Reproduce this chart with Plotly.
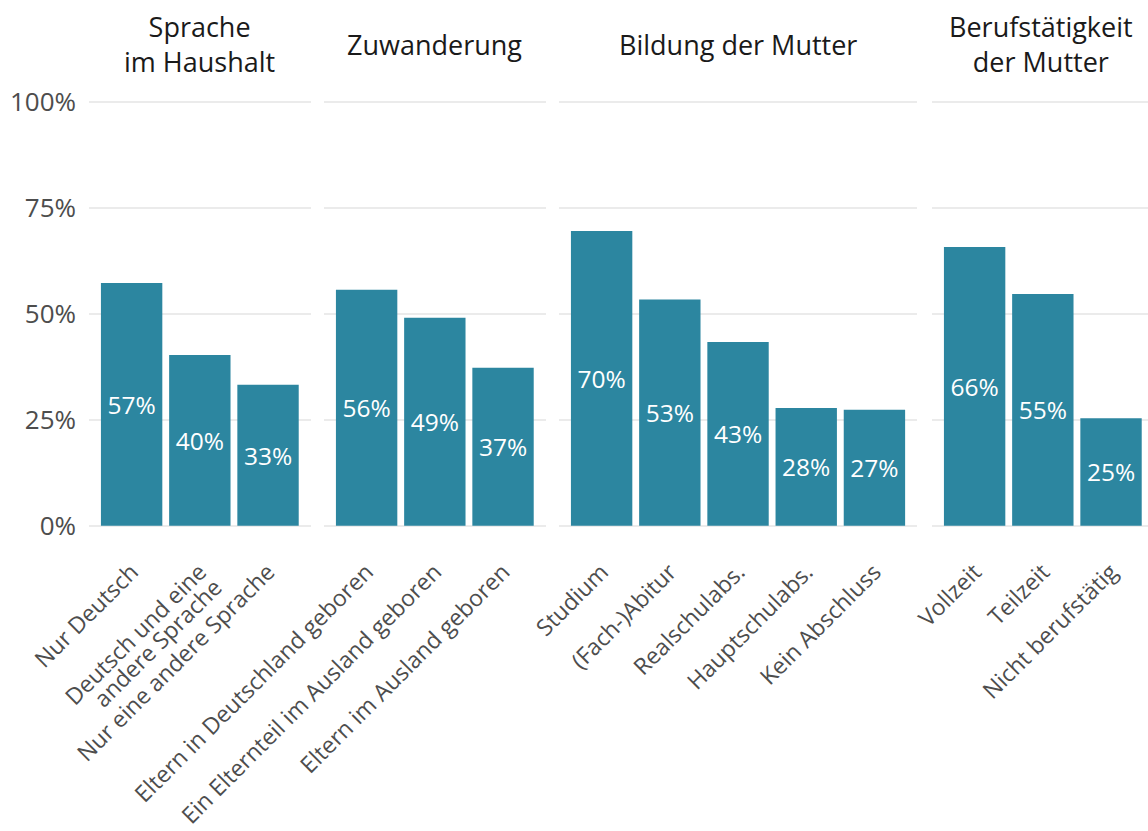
import plotly.graph_objects as go

# ---- data ----
panel_titles = ["Sprache<br>im Haushalt", "Zuwanderung", "Bildung der Mutter", "Berufstätigkeit<br>der Mutter"]

cats_sprache = ["Nur Deutsch", "Deutsch und eine<br>andere Sprache", "Nur eine andere Sprache"]
vals_sprache = [57.3, 40.3, 33.3]

cats_zuwanderung = ["Eltern in Deutschland geboren", "Ein Elternteil im Ausland geboren", "Eltern im Ausland geboren"]
vals_zuwanderung = [55.7, 49.1, 37.3]

cats_bildung = ["Studium", "(Fach-)Abitur", "Realschulabs.", "Hauptschulabs.", "Kein Abschluss"]
vals_bildung = [69.6, 53.4, 43.4, 27.8, 27.4]

cats_beruf = ["Vollzeit", "Teilzeit", "Nicht berufstätig"]
vals_beruf = [65.8, 54.7, 25.4]

y_tickvals = [0, 25, 50, 75, 100]
y_ticktext = ["0%", "25%", "50%", "75%", "100%"]

# ---- style ----
BAR = "#2c86a0"
GRID = "#ebebeb"
TICK = "#4d4d4d"
FONT = "Open Sans"

W, H = 1148, 831
ML, MR, MT, MB = 89, 0, 100, 304
PW = W - ML - MR
PH = H - MT - MB
Y_RANGE = [-0.3, 100.5]

# panel pixel extents (left, right)
panels_px = [(89, 310.6), (324, 545.6), (559, 917), (932, 1148)]
domains = [[(a - ML) / PW, (b - ML) / PW] for a, b in panels_px]
unit = 68.2
ranges = [[-0.625, -0.625 + (b - a) / unit] for (a, b) in panels_px]

groups = [
    (cats_sprache, vals_sprache),
    (cats_zuwanderung, vals_zuwanderung),
    (cats_bildung, vals_bildung),
    (cats_beruf, vals_beruf),
]

fig = go.Figure()
for i, (cats, vals) in enumerate(groups):
    sfx = "" if i == 0 else str(i + 1)
    fig.add_trace(go.Bar(
        x=cats, y=vals,
        xaxis="x" + sfx, yaxis="y" + sfx,
        marker=dict(color=BAR, line=dict(width=0)),
        width=0.9,
        text=[f"{round(v)}%" for v in vals],
        textposition="inside",
        insidetextanchor="middle",
        textangle=0,
        constraintext="none",
        textfont=dict(color="white", size=24.5, family=FONT),
        hoverinfo="skip",
        showlegend=False,
    ))

layout = dict(
    width=W, height=H,
    margin=dict(l=ML, r=MR, t=MT, b=MB, pad=0, autoexpand=False),
    plot_bgcolor="white", paper_bgcolor="white",
    font=dict(family=FONT, color=TICK),
    bargap=0.1,
)
for i in range(4):
    sfx = "" if i == 0 else str(i + 1)
    layout["xaxis" + sfx] = dict(
        domain=domains[i], range=ranges[i], anchor="y" + sfx,
        type="category", showgrid=False, zeroline=False, showline=False,
        ticks="", tickangle=-45, tickfont=dict(size=23, color=TICK, family=FONT),
        ticklabelstandoff=26, fixedrange=True, automargin=False,
    )
    layout["yaxis" + sfx] = dict(
        domain=[0, 1], range=Y_RANGE, anchor="x" + sfx,
        tickvals=y_tickvals, ticktext=y_ticktext,
        showticklabels=(i == 0), showgrid=True, gridcolor=GRID, gridwidth=2,
        zeroline=False, showline=False, ticks="",
        tickfont=dict(size=26, color=TICK, family=FONT),
        ticklabelstandoff=12, fixedrange=True, automargin=False,
    )
fig.update_layout(**layout)

title_x_px = [199.8, 434.8, 738, 1041]
title_y_px = 44
for t, xp in zip(panel_titles, title_x_px):
    fig.add_annotation(
        text=t, xref="paper", yref="paper",
        x=(xp - ML) / PW, y=1 + (MT - title_y_px) / PH,
        xanchor="center", yanchor="middle", showarrow=False,
        font=dict(size=27, color="#1a1a1a", family=FONT),
    )

# remove default page margin; tighten line spacing of multi-line tick labels
post = """
document.body.style.margin='0';
document.body.style.padding='0';
document.querySelectorAll('.xtick text tspan.line').forEach(function(t){
  var dy = parseFloat(t.getAttribute('dy'));
  if (dy) { t.setAttribute('dy', (dy * 0.95 / 1.3) + 'em'); }
});
"""

fig.write_html("out.html", post_script=post, config={"displayModeBar": False, "staticPlot": True})
